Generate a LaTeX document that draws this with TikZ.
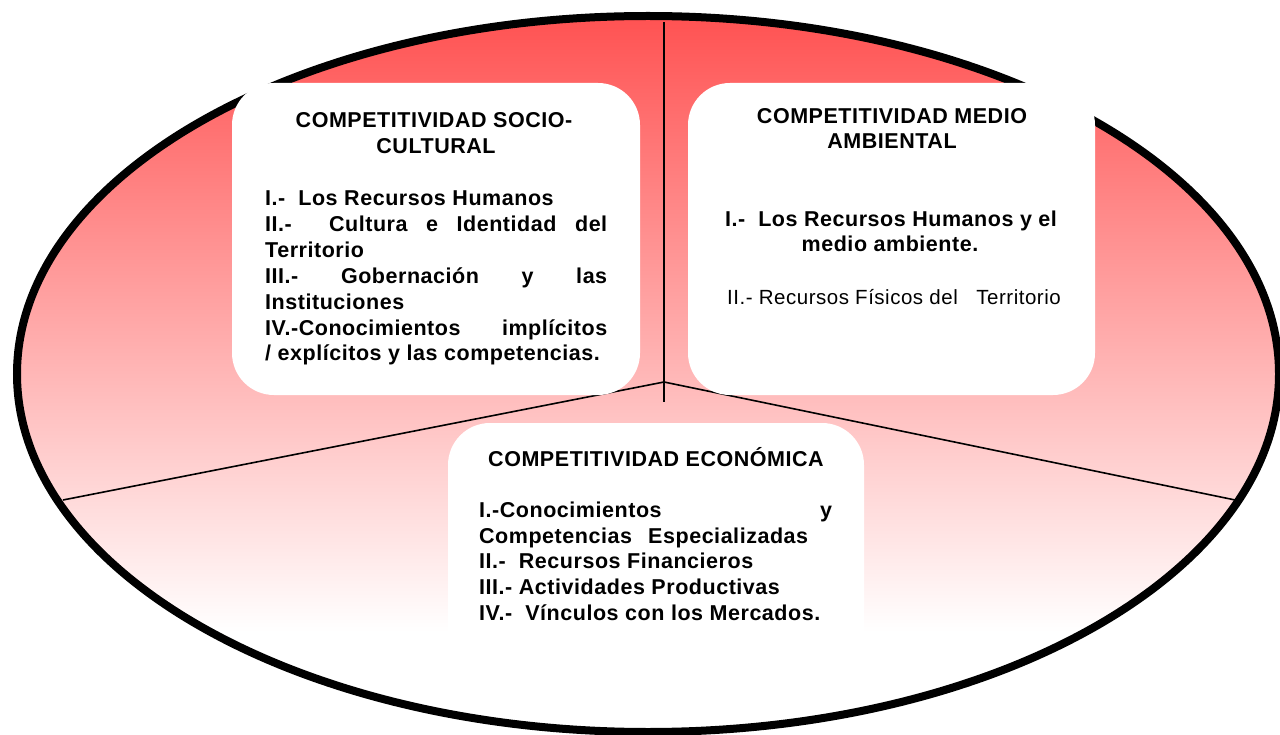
\documentclass[tikz,border=0pt]{standalone}
\usepackage{fontspec}
\setmainfont{Liberation Sans}[LetterSpace=2.5]
\definecolor{topred}{RGB}{255,82,82}
\pgfdeclareverticalshading{ellgrad}{100bp}{color(0bp)=(white); color(25bp)=(white); color(32bp)=(white); color(75bp)=(topred); color(100bp)=(topred)}
\begin{document}
\begin{tikzpicture}[x=1pt,y=-1pt,
  panel/.style={fill=white, draw=none, rounded corners=42pt, inner sep=0pt},
  ttl/.style={font=\fontsize{21.5}{25}\selectfont\bfseries, anchor=base, inner sep=0pt},
  itm/.style={font=\fontsize{21.5}{25}\selectfont\bfseries, anchor=base west, inner sep=0pt},
  itmc/.style={font=\fontsize{21.5}{25}\selectfont\bfseries, anchor=base, inner sep=0pt},
  itmr/.style={font=\fontsize{20.5}{24}\selectfont, anchor=base west, inner sep=0pt},
  divider/.style={line width=1.6pt, black}]
\useasboundingbox (0,0) rectangle (1280,735);
\fill[white] (0,0) rectangle (1280,735);
% ellipse
\shadedraw[shading=ellgrad, draw=black, line width=8pt] (648,374) ellipse [x radius=631pt, y radius=358pt];
% dividers
\coordinate (vtop) at (664,22);
\coordinate (junc) at (664,382);
\coordinate (vbot) at (664,402);
\coordinate (lend) at (63,500);
\coordinate (rend) at (1240,501);
\draw[divider] (vtop) -- (vbot);
\draw[divider] (junc) -- (lend);
\draw[divider] (junc) -- (rend);
% panels
\node[panel, minimum width=408pt, minimum height=312pt] (p1) at (436,239) {};
\node[panel, minimum width=407pt, minimum height=312pt] (p2) at (891.5,239) {};
\node[panel, minimum width=416pt, minimum height=267pt] (p3) at (656,556.5) {};
% panel 1 text
\node[ttl] (t1a) at (434,128) {COMPETITIVIDAD SOCIO-};
\node[ttl] (t1b) at (436,154) {CULTURAL};
\node[itm] (a1) at (265,206) {I.-\ \ Los Recursos Humanos};
\node[itm] (a2) at (265,231.7) {\makebox[342pt][s]{II.-\ \ Cultura e Identidad del}};
\node[itm] (a3) at (265,257.3) {Territorio};
\node[itm] (a4) at (265,283.3) {\makebox[342pt][s]{III.- Gobernación y las}};
\node[itm] (a5) at (265,309.3) {Instituciones};
\node[itm] (a6) at (265,335) {\makebox[342pt][s]{IV.-Conocimientos implícitos}};
\node[itm] (a7) at (265,360) {/ explícitos y las competencias.};
% panel 2 text
\node[ttl] (t2a) at (892,124) {COMPETITIVIDAD MEDIO};
\node[ttl] (t2b) at (892,149) {AMBIENTAL};
\node[itmc] (b1) at (891,227) {I.-\ \ Los Recursos Humanos y el};
\node[itmc] (b2) at (890,252) {medio ambiente.};
\node[itmr] (b3) at (727,305) {II.- Recursos Físicos del\ \ \ Territorio};
% panel 3 text
\node[ttl] (t3a) at (656,466) {COMPETITIVIDAD ECONÓMICA};
\node[itm] (c1) at (479,517) {\makebox[353pt][s]{I.-Conocimientos y}};
\node[itm] (c2) at (479,543) {\makebox[329pt][s]{Competencias Especializadas}};
\node[itm] (c3) at (479,568) {II.-\ \ Recursos Financieros};
\node[itm] (c4) at (479,594) {III.- Actividades Productivas};
\node[itm] (c5) at (479,620) {IV.-\ \ Vínculos con los Mercados.};
\end{tikzpicture}
\end{document}
